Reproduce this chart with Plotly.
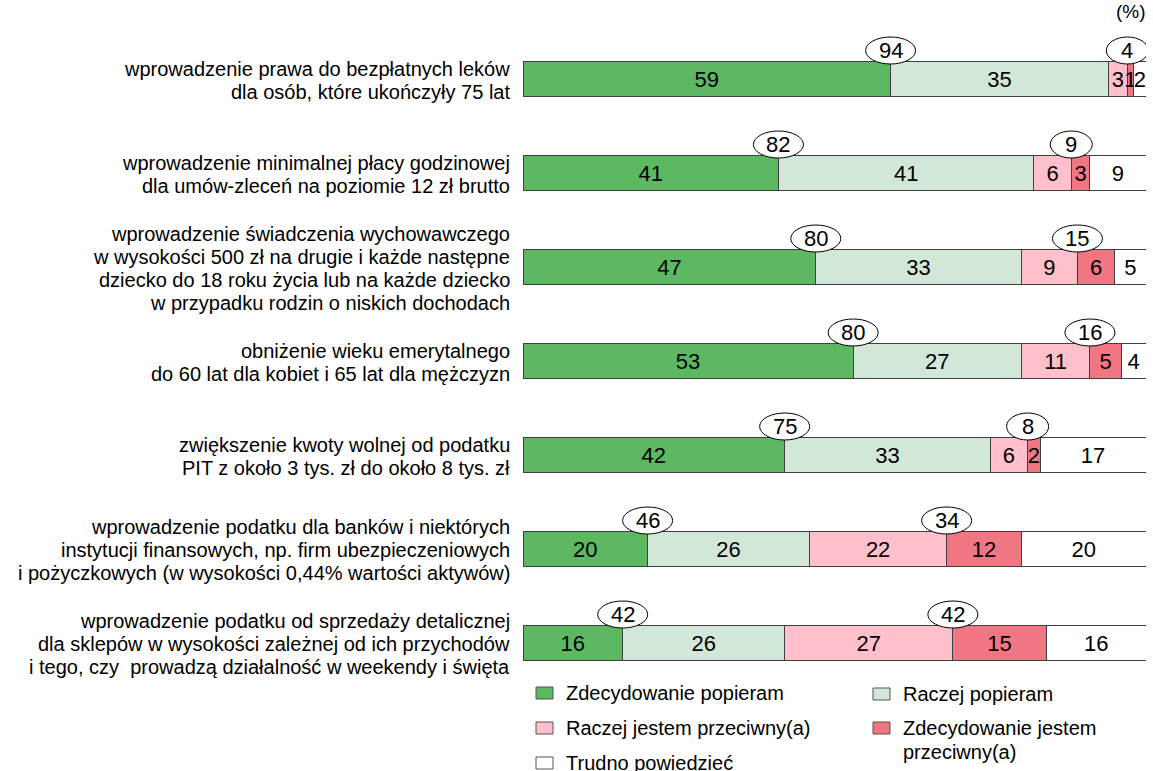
import plotly.graph_objects as go

categories = [
    ["wprowadzenie prawa do bezpłatnych leków", "dla osób, które ukończyły 75 lat"],
    ["wprowadzenie minimalnej płacy godzinowej", "dla umów-zleceń na poziomie 12 zł brutto"],
    ["wprowadzenie świadczenia wychowawczego", "w wysokości 500 zł na drugie i każde następne",
     "dziecko do 18 roku życia lub na każde dziecko", "w przypadku rodzin o niskich dochodach"],
    ["obniżenie wieku emerytalnego", "do 60 lat dla kobiet i 65 lat dla mężczyzn"],
    ["zwiększenie kwoty wolnej od podatku", "PIT z około 3 tys. zł do około 8 tys. zł"],
    ["wprowadzenie podatku dla banków i niektórych", "instytucji finansowych, np. firm ubezpieczeniowych",
     "i pożyczkowych (w wysokości 0,44% wartości aktywów)"],
    ["wprowadzenie podatku od sprzedaży detalicznej", "dla sklepów w wysokości zależnej od ich przychodów",
     "i tego, czy  prowadzą działalność w weekendy i święta"],
]

series_names = ["Zdecydowanie popieram", "Raczej popieram", "Raczej jestem przeciwny(a)",
                "Zdecydowanie jestem przeciwny(a)", "Trudno powiedzieć"]
strongly_support = [59, 41, 47, 53, 42, 20, 16]
rather_support = [35, 41, 33, 27, 33, 26, 26]
rather_against = [3, 6, 9, 11, 6, 22, 27]
strongly_against = [1, 3, 6, 5, 2, 12, 15]
hard_to_say = [2, 9, 5, 4, 17, 20, 16]
total_support = [94, 82, 80, 80, 75, 46, 42]
total_against = [4, 9, 15, 16, 8, 34, 42]

colors = ["#5DB862", "#D3E7D8", "#FFC0CB", "#F07683", "#FFFFFF"]
FONT = "Liberation Sans, Arial, sans-serif"

series = [strongly_support, rather_support, rather_against, strongly_against, hard_to_say]
ypos = list(range(len(categories)))

fig = go.Figure()
for name, vals, col in zip(series_names, series, colors):
    fig.add_trace(go.Bar(
        y=ypos, x=vals, name=name, orientation="h", width=0.372,
        marker=dict(color=col, line=dict(color="#404040", width=1)),
        text=[str(v) for v in vals], textposition="inside", insidetextanchor="middle",
        constraintext="none", textfont=dict(size=22, color="black", family=FONT),
        showlegend=False, hoverinfo="skip",
    ))

shapes = []
annotations = []

# ellipses with totals
for i in ypos:
    sup_x = strongly_support[i]
    ag_x = strongly_support[i] + rather_support[i] + rather_against[i]
    for xv, tv in [(sup_x, total_support[i]), (ag_x, total_against[i])]:
        hw = 25 if tv >= 10 else 21
        shapes.append(dict(type="circle", xref="x", yref="y", xsizemode="pixel", ysizemode="pixel",
                           xanchor=xv, yanchor=i, x0=-hw, x1=hw, y0=15, y1=42,
                           fillcolor="white", line=dict(color="black", width=1), layer="above"))
        annotations.append(dict(x=xv, y=i, xref="x", yref="y", text=str(tv), showarrow=False,
                                yshift=28.5, xanchor="center", yanchor="middle",
                                font=dict(size=22, color="black", family=FONT)))

# category labels
LS = 23
for i, lines in enumerate(categories):
    n = len(lines)
    for j, ln in enumerate(lines):
        off = (j - (n - 1) / 2) * LS
        annotations.append(dict(x=0, y=i, xref="paper", yref="y", text=ln, showarrow=False,
                                xanchor="right", yanchor="middle", xshift=-11, yshift=-off - 1,
                                font=dict(size=20, color="black", family=FONT)))

# "(%)"
annotations.append(dict(x=1, y=1.0304, xref="paper", yref="paper", text="(%)", showarrow=False,
                        xanchor="right", yanchor="middle", xshift=2,
                        font=dict(size=19, color="black", family=FONT)))

# manual legend (pixel layout converted to paper coordinates)
L, W, B, H = 523, 623, 690, 658
def px(x):
    return (x - L) / W
def py(y):
    return (B - y) / H

legend_items = [
    (series_names[0], colors[0], 536, 693),
    (series_names[1], colors[1], 873, 694),
    (series_names[2], colors[2], 536, 728),
    ("Zdecydowanie jestem<br>przeciwny(a)", colors[3], 873, 728),
    (series_names[4], colors[4], 536, 763),
]
for name, col, mx, my in legend_items:
    shapes.append(dict(type="rect", xref="paper", yref="paper",
                       x0=px(mx), x1=px(mx + 17), y0=py(my + 6), y1=py(my - 6),
                       fillcolor=col, line=dict(color="#555555", width=1)))
    parts = name.split("<br>")
    for k, p in enumerate(parts):
        annotations.append(dict(x=px(mx + 28), y=py(my + k * 24), xref="paper", yref="paper",
                                text=p, showarrow=False, xanchor="left", yanchor="middle",
                                font=dict(size=20, color="black", family=FONT)))

fig.update_layout(
    width=1153, height=771, barmode="stack",
    margin=dict(l=523, r=7, t=32, b=81, pad=0),
    paper_bgcolor="white", plot_bgcolor="white",
    xaxis=dict(range=[0, 100], visible=False, fixedrange=True),
    yaxis=dict(range=[6.5, -0.5], visible=False, fixedrange=True),
    shapes=shapes, annotations=annotations,
    font=dict(family=FONT, color="black"),
)

fig.write_html("out.html", config={"displayModeBar": False},
               post_script="document.body.style.margin='0';document.body.style.overflow='hidden';")
